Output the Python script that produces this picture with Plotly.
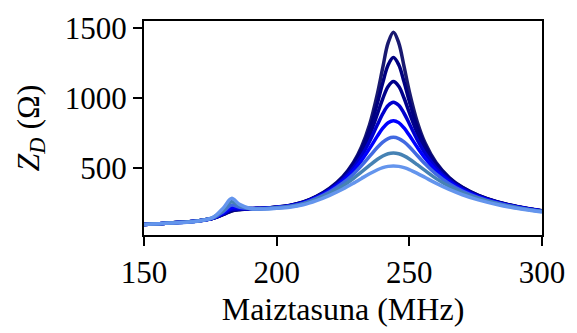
import plotly.graph_objects as go

# Frequency samples (MHz)
freq = [150, 160, 170, 176, 180, 183, 186, 190, 195, 200, 205, 210, 215, 220,
        225, 229, 232, 235, 238, 240, 242, 244, 246, 248, 250, 253, 256, 260,
        265, 270, 276, 283, 291, 300]

# Impedance magnitude Z_D (Ohm), one list per configuration
z1 = [97, 108, 123, 142, 169, 193, 203, 210, 214, 222, 234, 258, 299, 357,
      441, 543, 654, 811, 1036, 1221, 1396, 1473, 1397, 1228, 1048, 831, 678, 543,
      434, 363, 306, 260, 224, 195]
z2 = [97, 108, 123, 142, 170, 195, 205, 211, 214, 221, 234, 257, 297, 354,
      436, 533, 636, 777, 968, 1112, 1238, 1291, 1240, 1118, 978, 795, 659, 533,
      430, 361, 305, 259, 223, 195]
z3 = [97, 108, 122, 142, 173, 199, 206, 210, 213, 221, 233, 255, 295, 350,
      429, 520, 614, 736, 890, 998, 1085, 1120, 1086, 1002, 898, 751, 634, 520,
      423, 357, 302, 258, 223, 194]
z4 = [97, 108, 122, 143, 175, 205, 208, 210, 213, 220, 232, 254, 293, 346,
      420, 504, 587, 691, 812, 890, 949, 972, 950, 893, 818, 703, 605, 504,
      414, 352, 299, 256, 222, 194]
z5 = [97, 108, 122, 143, 181, 217, 214, 211, 212, 219, 230, 251, 289, 340,
      409, 484, 556, 640, 731, 786, 825, 840, 826, 788, 735, 649, 570, 484,
      404, 345, 296, 254, 220, 193]
z6 = [97, 108, 122, 144, 192, 236, 221, 212, 211, 218, 228, 248, 284, 331,
      394, 459, 518, 584, 650, 687, 712, 721, 712, 688, 653, 591, 530, 459,
      389, 337, 290, 251, 218, 191]
z7 = [97, 108, 122, 147, 204, 260, 232, 212, 210, 215, 225, 244, 277, 320,
      374, 428, 473, 520, 564, 587, 603, 608, 603, 588, 566, 525, 482, 427,
      370, 324, 283, 246, 215, 190]
z8 = [97, 107, 121, 148, 218, 284, 241, 212, 208, 213, 221, 238, 268, 306,
      351, 393, 427, 460, 489, 504, 513, 516, 513, 504, 490, 463, 433, 393,
      348, 310, 273, 240, 211, 187]

colors = ["#191970", "#000080", "#00008B", "#0000CD",
          "#0000FF", "#4169E1", "#4682B4", "#6495ED"]

x_ticks = [150, 200, 250, 300]
y_ticks = [500, 1000, 1500]

font_family = "Liberation Serif, DejaVu Serif, serif"

fig = go.Figure()
for z, c in zip([z1, z2, z3, z4, z5, z6, z7, z8], colors):
    fig.add_trace(go.Scatter(
        x=freq, y=z, mode="lines",
        line=dict(color=c, width=3.5, shape="spline", smoothing=1.0),
        showlegend=False, hoverinfo="skip",
    ))

axis_common = dict(
    showline=True, linecolor="black", linewidth=2, mirror=True,
    ticks="outside", ticklen=9, tickwidth=1.6, tickcolor="black",
    showgrid=False, zeroline=False,
    tickfont=dict(family=font_family, size=31, color="black"),
)

fig.update_layout(
    width=577, height=333,
    margin=dict(l=144, r=32, t=15, b=94),
    paper_bgcolor="white", plot_bgcolor="white",
    font=dict(family=font_family, color="black"),
    xaxis=dict(
        range=[150, 300], tickvals=x_ticks,
        title=dict(text="Maiztasuna (MHz)", standoff=8,
                   font=dict(family=font_family, size=32, color="black")),
        **axis_common,
    ),
    yaxis=dict(
        range=[22, 1553], tickvals=y_ticks,
        title=dict(text="<i>Z</i><sub><i>D</i></sub> (Ω)", standoff=16,
                   font=dict(family=font_family, size=32, color="black")),
        **axis_common,
    ),
)

fig.write_html("out.html")
